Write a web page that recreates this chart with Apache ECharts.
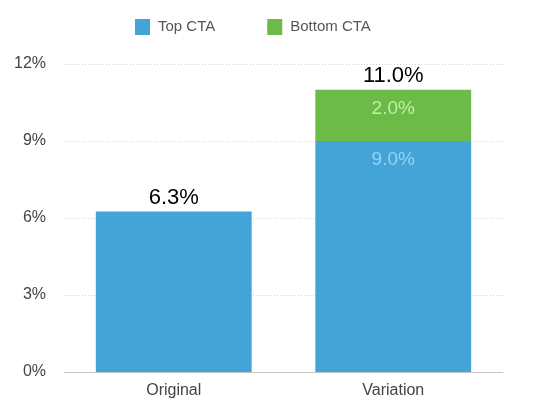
<!DOCTYPE html>
<html>
<head>
<meta charset="utf-8">
<script src="https://cdn.jsdelivr.net/npm/echarts@6/dist/echarts.min.js"></script>
<style>
  html, body { margin: 0; padding: 0; background: #fff; }
  #chart { width: 553px; height: 419px; }
</style>
</head>
<body>
<div id="chart"></div>
<script>
  // data
  const categories = ['Original', 'Variation']
  const topCta = [6.25, 9.0]
  const bottomCta = [0, 2.0]
  const yTicks = [0, 3, 6, 9, 12]

  const totals = topCta.map((v, i) => v + bottomCta[i])
  const font = '"Helvetica Neue", "Liberation Sans", Arial, sans-serif'

  const myChart = echarts.init(document.getElementById('chart'))

  // only show the inner label when the bar has two parts
  const topData = topCta.map((v, i) => ({
    value: v,
    label: { show: bottomCta[i] > 0 }
  }))
  const bottomData = bottomCta.map(v => ({
    value: v,
    label: { show: v > 0 }
  }))

  const option = {
    animation: false,
    textStyle: { fontFamily: font },
    legend: {
      data: ['Top CTA', 'Bottom CTA'],
      left: 130,
      top: 14,
      itemWidth: 15,
      itemHeight: 16,
      itemGap: 52,
      icon: 'rect',
      textStyle: { fontSize: 15, color: '#555', fontFamily: font, padding: [0, 0, 0, 3] }
    },
    grid: { left: 64, right: 50, top: 64, bottom: 47 },
    xAxis: {
      type: 'category',
      data: categories,
      axisTick: { show: false },
      axisLine: { lineStyle: { color: '#c4c4c4', width: 1 } },
      axisLabel: { fontSize: 16, color: '#444', margin: 11, fontFamily: font }
    },
    yAxis: {
      type: 'value',
      min: yTicks[0],
      max: yTicks[yTicks.length - 1],
      interval: yTicks[1] - yTicks[0],
      axisLine: { show: false },
      axisTick: { show: false },
      axisLabel: { fontSize: 16, color: '#444', margin: 18, formatter: '{value}%', fontFamily: font },
      splitLine: { lineStyle: { color: '#d2d2d2', type: [1, 2], width: 1 } }
    },
    series: [
      {
        name: 'Top CTA',
        type: 'bar',
        stack: 'cta',
        barWidth: '71%',
        itemStyle: { color: '#44a4d8' },
        label: {
          position: 'insideTop',
          distance: 9,
          fontSize: 19,
          color: '#8fd6f7',
          formatter: p => p.value.toFixed(1) + '%'
        },
        data: topData
      },
      {
        name: 'Bottom CTA',
        type: 'bar',
        stack: 'cta',
        itemStyle: { color: '#6cba47' },
        label: {
          position: 'insideTop',
          distance: 10,
          fontSize: 19,
          color: '#bdf0a6',
          formatter: p => p.value.toFixed(1) + '%'
        },
        data: bottomData
      },
      {
        // total on top of the stack
        name: 'Total',
        type: 'bar',
        stack: 'cta',
        itemStyle: { color: 'transparent' },
        label: {
          show: true,
          position: 'top',
          distance: 3,
          fontSize: 22,
          color: '#000',
          formatter: p => totals[p.dataIndex].toFixed(1) + '%'
        },
        data: totals.map(() => 0)
      }
    ]
  }

  myChart.setOption(option)
</script>
</body>
</html>
